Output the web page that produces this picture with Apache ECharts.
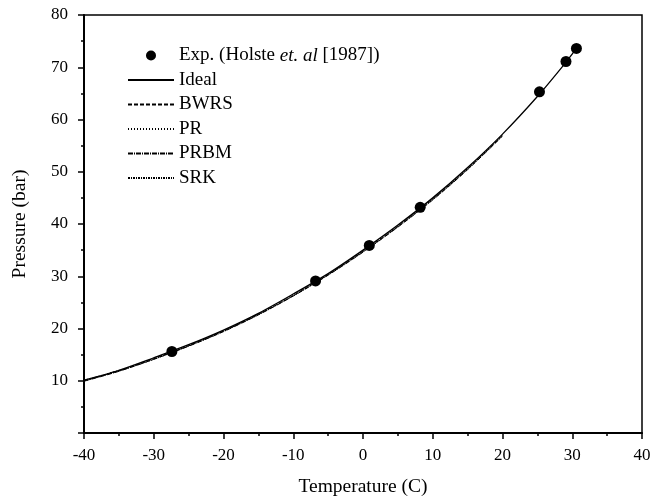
<!DOCTYPE html>
<html>
<head>
<meta charset="utf-8">
<script src="https://cdn.jsdelivr.net/npm/echarts@6/dist/echarts.min.js"></script>
<style>
  html, body { margin: 0; padding: 0; background: #fff; }
  #main { width: 651px; height: 497px; }
</style>
</head>
<body>
<div id="main"></div>
<script>
// experimental points (Holste et al 1987)
var expT = [-27.4, -6.8, 0.9, 8.2, 25.3, 29.1, 30.6];
var expP = [15.6, 29.1, 35.9, 43.2, 65.3, 71.1, 73.6];

// ideal curve
var idealT = [-40, -35, -30, -25, -20, -15, -10, -5, 0, 5, 10, 15, 20, 25, 29, 30.6];
var idealP = [10.1, 12.0, 14.4, 16.9, 19.7, 22.9, 26.6, 30.5, 35.0, 39.8, 45.0, 50.8, 57.2, 64.4, 70.8, 73.6];

// equation of state curves (they stop at 20 C)
var eosT = [-40, -35, -30, -25, -20, -15, -10, -5, 0, 5, 10, 15, 20];
var bwrsP = [10.0, 11.9, 14.2, 16.7, 19.5, 22.7, 26.3, 30.3, 34.7, 39.5, 44.7, 50.5, 56.9];
var prP = [10.1, 12.0, 14.3, 16.8, 19.6, 22.8, 26.5, 30.4, 34.9, 39.7, 44.9, 50.7, 57.1];
var prbmP = [9.9, 11.8, 14.1, 16.6, 19.4, 22.6, 26.2, 30.2, 34.6, 39.4, 44.6, 50.4, 56.8];
var srkP = [10.0, 11.9, 14.1, 16.7, 19.5, 22.7, 26.3, 30.3, 34.8, 39.6, 44.8, 50.6, 57.0];

var xTicks = { min: -40, max: 40, step: 10 };
var yTicks = { min: 0, max: 80, step: 10 };

function zip(xs, ys) {
  return xs.map(function (x, i) { return [x, ys[i]]; });
}

var serif = '"Liberation Serif", "Times New Roman", serif';
var expName = 'Exp. (Holste et. al [1987])';

var chart = echarts.init(document.getElementById('main'));

function lineSeries(name, data, type, width) {
  return {
    name: name,
    type: 'line',
    data: data,
    symbol: 'none',
    smooth: 0.3,
    itemStyle: { color: '#000', opacity: 0 },
    lineStyle: { color: '#000', width: width, type: type },
    z: 2
  };
}

var option = {
  backgroundColor: '#fff',
  animation: false,
  grid: {
    left: 84, right: 9, top: 15, bottom: 64,
    containLabel: false,
    outerBoundsMode: 'none',
    show: true, borderColor: '#000', borderWidth: 1.5
  },
  legend: {
    orient: 'vertical',
    left: 122, top: 41,
    itemWidth: 46, itemHeight: 10, itemGap: 5.5,
    data: [expName, 'Ideal', 'BWRS', 'PR', 'PRBM', 'SRK'],
    textStyle: {
      fontFamily: serif, fontSize: 19, color: '#000',
      rich: {
        n: { fontFamily: serif, fontSize: 19, color: '#000' },
        i: { fontFamily: serif, fontSize: 19, color: '#000', fontStyle: 'italic' }
      }
    },
    formatter: function (name) {
      if (name === expName) return '{n|Exp. (Holste }{i|et. al}{n| [1987])}';
      return name;
    }
  },
  xAxis: {
    type: 'value',
    min: xTicks.min, max: xTicks.max, interval: xTicks.step,
    name: 'Temperature (C)',
    nameLocation: 'middle', nameGap: 44,
    nameTextStyle: { fontFamily: serif, fontSize: 19.5, color: '#000' },
    axisLine: { onZero: false, lineStyle: { color: '#000', width: 2 } },
    axisTick: { inside: false, length: 6, lineStyle: { color: '#000', width: 1.5 } },
    minorTick: { show: true, splitNumber: 2, length: 3, lineStyle: { color: '#000', width: 1.5 } },
    axisLabel: { fontFamily: serif, fontSize: 17, color: '#000', margin: 14 },
    splitLine: { show: false }
  },
  yAxis: {
    type: 'value',
    min: yTicks.min, max: yTicks.max, interval: yTicks.step,
    name: 'Pressure (bar)',
    nameLocation: 'middle', nameGap: 54,
    nameTextStyle: { fontFamily: serif, fontSize: 19.5, color: '#000' },
    axisLine: { onZero: false, lineStyle: { color: '#000', width: 2 } },
    axisTick: { inside: false, length: 6, lineStyle: { color: '#000', width: 1.5 } },
    minorTick: { show: true, splitNumber: 2, length: 3, lineStyle: { color: '#000', width: 1.5 } },
    axisLabel: {
      fontFamily: serif, fontSize: 17, color: '#000', margin: 16,
      formatter: function (v) { return v === 0 ? '' : v; }
    },
    splitLine: { show: false }
  },
  series: [
    {
      name: expName,
      type: 'scatter',
      data: zip(expT, expP),
      symbol: 'circle',
      symbolSize: 11,
      itemStyle: { color: '#000', opacity: 1 },
      z: 5
    },
    lineSeries('Ideal', zip(idealT, idealP), 'solid', 1.3),
    lineSeries('BWRS', zip(eosT, bwrsP), [4, 2], 1),
    lineSeries('PR', zip(eosT, prP), [1, 2], 1),
    lineSeries('PRBM', zip(eosT, prbmP), [5, 1, 1, 1], 1),
    lineSeries('SRK', zip(eosT, srkP), [2, 1, 1, 1], 1)
  ]
};

chart.setOption(option);
</script>
</body>
</html>
